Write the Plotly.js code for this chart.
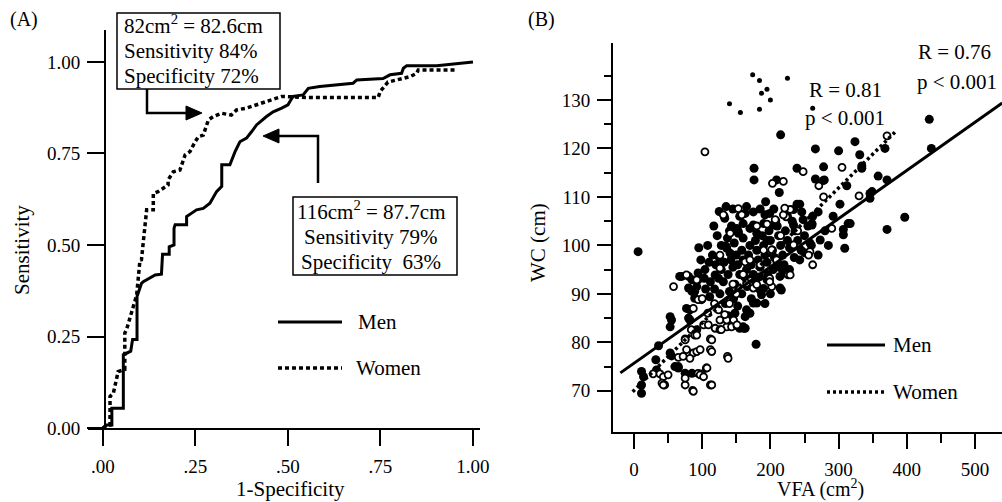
<!DOCTYPE html>
<html>
<head>
<meta charset="utf-8">
<script src="https://cdn.plot.ly/plotly-3.0.1.min.js"></script>
<style>html,body{margin:0;padding:0;background:#fff;}#chart{width:1002px;height:502px;}</style>
</head>
<body>
<div id="chart"></div>
<script>
// ---------- Panel A: ROC curves ----------
const menFPR = [0,0.01,0.024,0.024,0.055,0.055,0.075,0.08,0.092,0.092,0.104,0.109,0.141,0.158,0.161,0.179,0.179,0.192,0.192,0.195,0.226,0.226,0.253,0.271,0.289,0.307,0.321,0.321,0.343,0.357,0.37,0.388,0.402,0.415,0.442,0.46,0.483,0.5,0.51,0.514,0.541,0.555,0.586,0.622,0.676,0.686,0.757,0.776,0.807,0.812,0.821,0.902,0.947,1.0];
const menSens = [0,0.008,0.008,0.054,0.054,0.20,0.21,0.242,0.242,0.359,0.395,0.40,0.418,0.42,0.475,0.475,0.495,0.5,0.546,0.555,0.555,0.578,0.596,0.60,0.614,0.646,0.66,0.719,0.719,0.755,0.782,0.792,0.81,0.828,0.851,0.864,0.874,0.883,0.90,0.906,0.91,0.928,0.933,0.937,0.942,0.951,0.955,0.965,0.969,0.983,0.99,0.99,0.994,1.0];
const womenFPR = [0,0.01,0.019,0.019,0.028,0.041,0.059,0.059,0.064,0.082,0.091,0.100,0.104,0.118,0.136,0.136,0.149,0.176,0.176,0.19,0.208,0.222,0.235,0.249,0.258,0.271,0.28,0.285,0.298,0.32,0.347,0.361,0.388,0.415,0.442,0.469,0.483,0.55,0.744,0.749,0.762,0.77,0.83,0.848,0.852,0.951];
const womenSens = [0,0.008,0.008,0.086,0.095,0.154,0.16,0.259,0.27,0.327,0.363,0.459,0.46,0.596,0.596,0.641,0.646,0.664,0.678,0.70,0.705,0.746,0.755,0.782,0.796,0.80,0.823,0.842,0.851,0.86,0.855,0.869,0.874,0.883,0.892,0.90,0.906,0.903,0.903,0.919,0.937,0.945,0.96,0.969,0.978,0.978];
const rocTickVals = [0,0.25,0.5,0.75,1];
const rocXTickText = ['.00','.25','.50','.75','1.00'];
const rocYTickText = ['0.00','0.25','0.50','0.75','1.00'];

// ---------- Panel B: VFA vs WC ----------
const menVFA = [6,11,14,11,11,33,32,36,53,55,53,53,55,60,65,75,85,65,82,77,82,80,80,85,67,70,85,80,94,104,103,92,89,89,99,111,119,124,131,136,141,151,153,160,92,155,161,163,179,176,176,213,193,175,192,199,234,246,270,160,175,190,204,234,248,261,133,215,266,300,239,278,209,279,312,302,239,243,433,436,368,324,331,334,358,371,349,346,397,371,317,307,307,309,314,270,243,214,219,214,175,165,163,160,185,187,180,216,214,195,190,261,273,132,140,135,153,163,266,278,334,346,
120,125,128,132,138,142,145,148,150,152,155,158,160,162,165,168,170,172,175,178,180,182,185,188,190,192,195,198,200,203,206,210,212,215,218,222,225,228,232,236,240,245,250,255,258,262,147,143,137,128,122,115,110,118,126,134,140,146,152,158,166,172,178,184,196,204,210,220,228,200,192,170,148,138,112,105,98,95,108,117,125,135,165,185,205,225,155,145,170,180,195,250,235,260,280,285,292];
const menWC = [98.7,74.0,72.9,71.2,69.5,74.3,76.4,79.3,85.3,84.6,83.2,77.8,77.2,75.0,75.0,73.6,73.6,74.7,84.6,87.0,86.7,85.0,91.2,90.5,93.6,93.6,92.9,93.6,94.3,95.0,93.2,91.5,90.5,89.1,88.8,89.4,93.9,93.2,92.5,99.4,98.4,103.5,102.5,101.5,82.6,82.9,82.9,82.9,79.6,115.9,113.5,110.9,109.0,106.9,106.3,106.6,107.4,106.9,106.9,104.5,104.2,104.5,104.2,104.2,105.3,104.5,105.6,122.8,119.9,119.5,115.9,116.2,113.5,113.5,112.3,108.5,108.5,108.5,126.0,120.0,120.0,121.4,118.7,115.9,114.3,113.5,111.1,109.7,105.8,103.3,104.5,103.3,102.2,99.4,104.5,98.0,97.0,95.4,94.3,91.2,88.1,86.7,85.3,83.2,90.8,89.8,88.1,90.8,93.6,92.9,91.1,104.2,101.1,106.1,103.0,99.8,102.8,106.6,113.7,113.4,116.4,110.7,
96,97.5,95,96.5,94,97,95.5,92,98,96,94,99,97,93.5,95,98,100,96,94,101,99,97,95.5,102,100,98,96.5,103,101,99,97.5,104,102,100,98,103,101,99.5,105,103,101,99,102,104,100.5,106,100.5,104,101.5,100,102,98,96.5,91,90,88,90.5,89,87.5,90,91.5,89,92.5,93.5,94,95,96.5,96,95,90,88,86,86,85.5,92.5,91,97,99.5,100,104,107,108,108,107.5,107.5,106,106,107.5,103.5,102.5,101,98.5,97.5,100,103,100,106];
const womenVFA = [104,248,305,203,219,271,278,153,158,131,223,229,195,208,371,330,290,58,28,38,43,50,41,45,65,72,75,87,92,94,99,106,75,86,112,112,112,137,84,89,102,109,119,126,136,143,151,126,136,87,77,94,94,126,126,141,163,124,133,207,219,258,199,226,202,234,175,92,92,75,77,82,97,114,114,138,97,102,107,75,87,114,43,128,146,151,165,180,199,202,209,256,229,221,145,160,170,185,150,140,118,108,100,190,215,180,240,262];
const womenWC = [119.3,115.2,116.1,112.8,113.2,112.3,110.0,107.6,106.3,106.3,105.9,107.4,104.4,105.1,122.6,110.2,103.5,91.5,73.5,73.5,72.9,73.3,71.6,71.2,76.9,77.1,80.7,77.8,78.1,73.6,73.5,74.7,71.2,70.1,71.2,78.5,80.7,77.1,82.6,81.5,83.6,83.6,82.9,82.6,83.2,83.2,83.4,84.6,84.6,87.0,93.9,92.9,88.8,95.3,98.0,102.5,96.6,86.7,85.7,105.3,106.3,98.7,93.2,93.9,91.5,100.1,91.2,92.9,81.5,80.5,78.5,76.7,78.5,80.5,78.1,76.7,73.3,72.9,74.7,72.6,69.9,71.2,71.2,82.6,84.6,83.6,92.2,91.9,92.5,99.1,97.0,98.0,93.9,107.7,92,94,97,96,90,88,88,86,89,99,102,104,103,96];
const smallVFA = [174,184,195,187,200,140,156,184,225,262];
const smallWC = [135.2,134.0,132.2,131.4,130.0,129.2,127.4,128.1,134.5,128.3];
const menFitVFA = [-20,540];
const menFitWC = [73.7,129.4];
const womenFitVFA = [-2,383];
const womenFitWC = [69.8,123.4];
const vfaTickVals = [0,100,200,300,400,500];
const vfaMinor = [50,150,250,350,450];
const wcTickVals = [70,80,90,100,110,120,130];
const wcMinor = [75,85,95,105,115,125,135];

// ---------- layout helpers (pixel -> paper) ----------
const W = 1002, H = 502;
const X = p => p / W;
const Y = p => 1 - p / H;
const FONT = 'Liberation Serif';
const pathOf = pts => pts.map((p, i) => (i ? 'L' : 'M') + X(p[0]).toFixed(5) + ',' + Y(p[1]).toFixed(5)).join(' ');

const traces = [
  {x: menFPR, y: menSens, xaxis: 'x', yaxis: 'y', mode: 'lines', line: {color: '#000', width: 3}, hoverinfo: 'skip'},
  {x: womenFPR, y: womenSens, xaxis: 'x', yaxis: 'y', mode: 'lines', line: {color: '#000', width: 3.5, dash: '4px,3px'}, hoverinfo: 'skip'},
  {x: menVFA, y: menWC, xaxis: 'x2', yaxis: 'y2', mode: 'markers', marker: {color: '#000', size: 9, line: {width: 0}}, hoverinfo: 'skip'},
  {x: womenVFA, y: womenWC, xaxis: 'x2', yaxis: 'y2', mode: 'markers', marker: {color: '#fff', size: 7, line: {color: '#000', width: 1.8}}, hoverinfo: 'skip'},
  {x: smallVFA, y: smallWC, xaxis: 'x2', yaxis: 'y2', mode: 'markers', marker: {color: '#000', size: 5, line: {width: 0}}, hoverinfo: 'skip'},
  {x: menFitVFA, y: menFitWC, xaxis: 'x2', yaxis: 'y2', mode: 'lines', line: {color: '#000', width: 3}, hoverinfo: 'skip'},
  {x: womenFitVFA, y: womenFitWC, xaxis: 'x2', yaxis: 'y2', mode: 'lines', line: {color: '#000', width: 3.5, dash: '3px,3px'}, hoverinfo: 'skip'}
];

const tickFont = {family: FONT, size: 19, color: '#000'};
const axisCommon = {showgrid: false, zeroline: false, showline: true, linecolor: '#000', linewidth: 2, ticks: 'outside', tickcolor: '#000', tickwidth: 2, tickfont: tickFont, fixedrange: true};

const ann = (text, x, y, opts) => Object.assign({text: text, x: X(x), y: Y(y), xref: 'paper', yref: 'paper', showarrow: false, xanchor: 'left', yanchor: 'middle', font: {family: FONT, size: 21, color: '#000'}}, opts || {});

const annotations = [
  ann('(A)', 8, 20, {font: {family: FONT, size: 20, color: '#000'}}),
  ann('(B)', 526, 20, {font: {family: FONT, size: 20, color: '#000'}}),
  ann('82cm<sup>2</sup> = 82.6cm', 122, 25),
  ann('Sensitivity 84%', 122, 51),
  ann('Specificity 72%', 122, 76),
  ann('116cm<sup>2</sup> = 87.7cm', 295, 210),
  ann('Sensitivity 79%', 302, 237),
  ann('Specificity&nbsp; 63%', 299, 262),
  ann('Men', 356, 322),
  ann('Women', 354, 368),
  ann('Sensitivity', 22, 250, {xanchor: 'center', textangle: -90}),
  ann('1-Specificity', 290, 489, {xanchor: 'center'}),
  ann('R = 0.76', 954, 52, {xanchor: 'center'}),
  ann('p < 0.001', 957, 82, {xanchor: 'center'}),
  ann('R = 0.81', 845, 90, {xanchor: 'center'}),
  ann('p < 0.001', 845, 118, {xanchor: 'center'}),
  ann('Men', 891, 345),
  ann('Women', 891, 392),
  ann('WC (cm)', 538, 243, {xanchor: 'center', textangle: -90}),
  ann('VFA (cm<sup>2</sup>)', 820, 488, {xanchor: 'center', font: {family: FONT, size: 20, color: '#000'}})
];

const shapes = [
  {type: 'rect', xref: 'paper', yref: 'paper', x0: X(117), x1: X(280), y0: Y(13), y1: Y(89), line: {color: '#000', width: 1.5}},
  {type: 'rect', xref: 'paper', yref: 'paper', x0: X(293), x1: X(457), y0: Y(197), y1: Y(275), line: {color: '#000', width: 1.5}},
  {type: 'path', xref: 'paper', yref: 'paper', path: pathOf([[147, 89], [147, 113], [190, 113]]), line: {color: '#000', width: 2.5}},
  {type: 'path', xref: 'paper', yref: 'paper', path: pathOf([[186, 106], [202, 113], [186, 120]]) + ' Z', fillcolor: '#000', line: {color: '#000', width: 1}},
  {type: 'path', xref: 'paper', yref: 'paper', path: pathOf([[318, 183], [318, 136], [276, 136]]), line: {color: '#000', width: 2.5}},
  {type: 'path', xref: 'paper', yref: 'paper', path: pathOf([[279, 129], [263, 136], [279, 143]]) + ' Z', fillcolor: '#000', line: {color: '#000', width: 1}},
  {type: 'line', xref: 'paper', yref: 'paper', x0: X(278), x1: X(342), y0: Y(322), y1: Y(322), line: {color: '#000', width: 3}},
  {type: 'line', xref: 'paper', yref: 'paper', x0: X(278), x1: X(342), y0: Y(368), y1: Y(368), line: {color: '#000', width: 3.5, dash: '4px,3px'}},
  {type: 'line', xref: 'paper', yref: 'paper', x0: X(827), x1: X(885), y0: Y(345), y1: Y(345), line: {color: '#000', width: 3}},
  {type: 'line', xref: 'paper', yref: 'paper', x0: X(827), x1: X(885), y0: Y(392), y1: Y(392), line: {color: '#000', width: 3.5, dash: '3px,3px'}}
];

const layout = {
  width: W, height: H,
  margin: {l: 0, r: 0, t: 0, b: 0, pad: 0},
  paper_bgcolor: '#fff', plot_bgcolor: 'rgba(0,0,0,0)',
  showlegend: false,
  font: {family: FONT, color: '#000'},
  xaxis: Object.assign({}, axisCommon, {domain: [X(88), X(480)], range: [-0.0405, 1.019], anchor: 'y', tickmode: 'array', tickvals: rocTickVals, ticktext: rocXTickText, ticklen: 16, ticklabelstandoff: 4}),
  yaxis: Object.assign({}, axisCommon, {domain: [Y(428), Y(30)], range: [0, 1.0874], anchor: 'free', position: X(105), tickmode: 'array', tickvals: rocTickVals, ticktext: rocYTickText, ticklen: 17, ticklabelstandoff: 3}),
  xaxis2: Object.assign({}, axisCommon, {domain: [X(613), 1], range: [-30.8, 539.6], anchor: 'y2', tickmode: 'array', tickvals: vfaTickVals, ticklen: 15, ticklabelstandoff: 4, minor: {tickvals: vfaMinor, ticklen: 9, ticks: 'outside', tickcolor: '#000', tickwidth: 2}}),
  yaxis2: Object.assign({}, axisCommon, {domain: [Y(432), Y(43)], range: [61.5, 141.75], anchor: 'x2', tickmode: 'array', tickvals: wcTickVals, ticklen: 14, ticklabelstandoff: 3, minor: {tickvals: wcMinor, ticklen: 7, ticks: 'outside', tickcolor: '#000', tickwidth: 2}}),
  annotations: annotations,
  shapes: shapes
};

Plotly.newPlot('chart', traces, layout, {staticPlot: true, displayModeBar: false});
</script>
</body>
</html>
